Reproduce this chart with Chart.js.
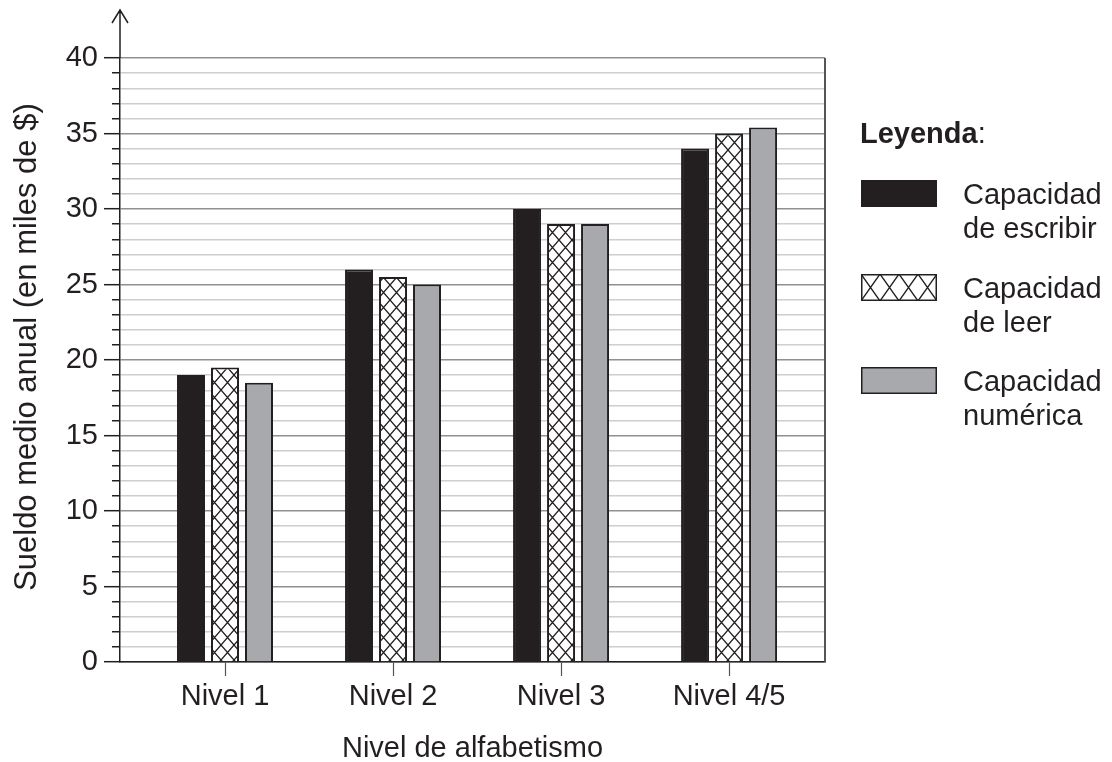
<!DOCTYPE html>
<html>
<head>
<meta charset="utf-8">
<script src="https://cdn.jsdelivr.net/npm/chart.js@4"></script>
<style>
html,body{margin:0;padding:0;background:#fff;}
#wrap{position:relative;width:1112px;height:762px;overflow:hidden;font-family:'Liberation Sans',Arial,Helvetica,sans-serif;color:#231f20;}
#c{position:absolute;left:0;top:0;}
.lg-title{position:absolute;left:860px;top:116px;font-size:29px;line-height:34px;white-space:nowrap;}
.lg-item{position:absolute;left:861px;width:251px;height:80px;}
.lg-item canvas{position:absolute;left:0;top:0;}
.lg-item .txt{position:absolute;left:102px;top:-3px;width:149px;font-size:29px;line-height:34px;}
</style>
</head>
<body>
<div id="wrap">
  <canvas id="c" width="1112" height="762"></canvas>
  <div class="lg-title"><b>Leyenda</b>:</div>
  <div id="legend"></div>
</div>
<script>
// ---- data ----
const categories = ['Nivel 1', 'Nivel 2', 'Nivel 3', 'Nivel 4/5'];
const seriesNames = ['Capacidad de escribir', 'Capacidad de leer', 'Capacidad numérica'];
const escribir = [19, 26, 30, 34];
const leer = [19.5, 25.5, 29, 35];
const numerica = [18.5, 25, 29, 35.4];
const yMin = 0, yMax = 40, yStep = 1, yLabelEvery = 5;
const xAxisTitle = 'Nivel de alfabetismo';
const yAxisTitle = 'Sueldo medio anual (en miles de $)';

// ---- styles ----
const INK = '#231f20';
const GRAY = '#a7a9ac';
const FONT = "'Liberation Sans', Arial, Helvetica, sans-serif";
Chart.defaults.font.family = FONT;
Chart.defaults.font.size = 29;
Chart.defaults.color = INK;

function makeHatch(w, h, lw) {
  const cv = document.createElement('canvas');
  cv.width = w; cv.height = h;
  const g = cv.getContext('2d');
  g.fillStyle = '#fff';
  g.fillRect(0, 0, w, h);
  g.strokeStyle = INK;
  g.lineWidth = lw;
  g.beginPath();
  g.moveTo(0, 0); g.lineTo(w, h);
  g.moveTo(w, 0); g.lineTo(0, h);
  g.moveTo(-w, 0); g.lineTo(w, 2 * h);
  g.moveTo(2 * w, 0); g.lineTo(0, 2 * h);
  g.moveTo(0, -h); g.lineTo(2 * w, h);
  g.moveTo(w, -h); g.lineTo(-w, h);
  g.stroke();
  return cv;
}
const ctx = document.getElementById('c').getContext('2d');
const hatch = ctx.createPattern(makeHatch(13, 15, 1.3), 'repeat');
const fills = [INK, hatch, GRAY];
const seriesValues = [escribir, leer, numerica];

const decor = {
  id: 'decor',
  afterDraw(chart) {
    const {ctx, chartArea: a} = chart;
    ctx.save();
    ctx.strokeStyle = '#555';
    ctx.lineWidth = 2;
    ctx.beginPath();
    ctx.moveTo(a.right, a.top);
    ctx.lineTo(a.right, a.bottom);
    ctx.stroke();
    ctx.strokeStyle = INK;
    ctx.lineWidth = 1.5;
    ctx.beginPath();
    ctx.moveTo(a.left, a.top);
    ctx.lineTo(a.left, 10);
    ctx.moveTo(a.left - 8, 23);
    ctx.lineTo(a.left, 10);
    ctx.lineTo(a.left + 8, 23);
    ctx.stroke();
    ctx.restore();
  }
};

const chart = new Chart(ctx, {
  type: 'bar',
  data: {
    datasets: seriesValues.map((vals, k) => ({
      label: seriesNames[k],
      data: vals.map((v, i) => ({x: i, y: v})),
      backgroundColor: fills[k],
      borderColor: INK,
      borderWidth: 2,
      borderSkipped: 'start'
    }))
  },
  options: {
    responsive: false,
    animation: false,
    events: [],
    layout: {padding: {top: 58, right: 287, bottom: 0, left: 0}},
    plugins: {legend: {display: false}, tooltip: {enabled: false}},
    datasets: {bar: {categoryPercentage: 0.607, barPercentage: 0.8235}},
    scales: {
      x: {
        type: 'linear',
        min: -0.625,
        max: 3.571,
        offset: false,
        afterBuildTicks: s => { s.ticks = categories.map((c, i) => ({value: i})); },
        afterFit: s => { s.height = 100; },
        ticks: {
          callback: v => categories[v] !== undefined ? categories[v] : '',
          maxRotation: 0, autoSkip: false, padding: 4, color: INK
        },
        grid: {display: true, drawOnChartArea: false, drawTicks: true, offset: false,
               tickLength: 14, tickColor: '#555', tickWidth: 1.2},
        border: {display: true, color: INK, width: 1.5},
        title: {display: true, text: xAxisTitle, color: INK, padding: {top: 0, bottom: -4}}
      },
      y: {
        min: yMin, max: yMax,
        afterFit: s => { s.width = 120; },
        ticks: {
          stepSize: yStep, maxTicksLimit: 100, autoSkip: false, padding: 6, color: INK,
          callback: v => (v % yLabelEvery === 0 ? v : '')
        },
        grid: {
          color: c => (c.tick && c.tick.value % yLabelEvery === 0 ? '#8f9092' : '#cdcecf'),
          lineWidth: 1.4,
          tickLength: 16,
          tickColor: INK,
          tickWidth: 1.5,
          tickBorderDash: c => (c.tick && c.tick.value % yLabelEvery !== 0 ? [0, 8, 8, 100] : [])
        },
        border: {display: true, color: INK, width: 1.5},
        title: {display: true, text: '   ' + yAxisTitle, color: INK, font: {size: 31},
                padding: {top: 9, bottom: 0}}
      }
    }
  },
  plugins: [decor]
});

// ---- HTML legend built from the datasets ----
const legend = document.getElementById('legend');
chart.data.datasets.forEach((ds, k) => {
  const item = document.createElement('div');
  item.className = 'lg-item';
  item.style.top = (180 + k * 93.5) + 'px';
  const sw = document.createElement('canvas');
  sw.width = 76; sw.height = 27;
  const g = sw.getContext('2d');
  if (k === 1) {
    g.fillStyle = g.createPattern(makeHatch(19, 27, 1.3), 'repeat');
  } else {
    g.fillStyle = ds.backgroundColor;
  }
  g.fillRect(0, 0, 76, 27);
  g.strokeStyle = INK;
  g.lineWidth = 1.5;
  g.strokeRect(0.75, 0.75, 74.5, 25.5);
  item.appendChild(sw);
  const t = document.createElement('div');
  t.className = 'txt';
  t.textContent = ds.label;
  item.appendChild(t);
  legend.appendChild(item);
});
</script>
</body>
</html>
